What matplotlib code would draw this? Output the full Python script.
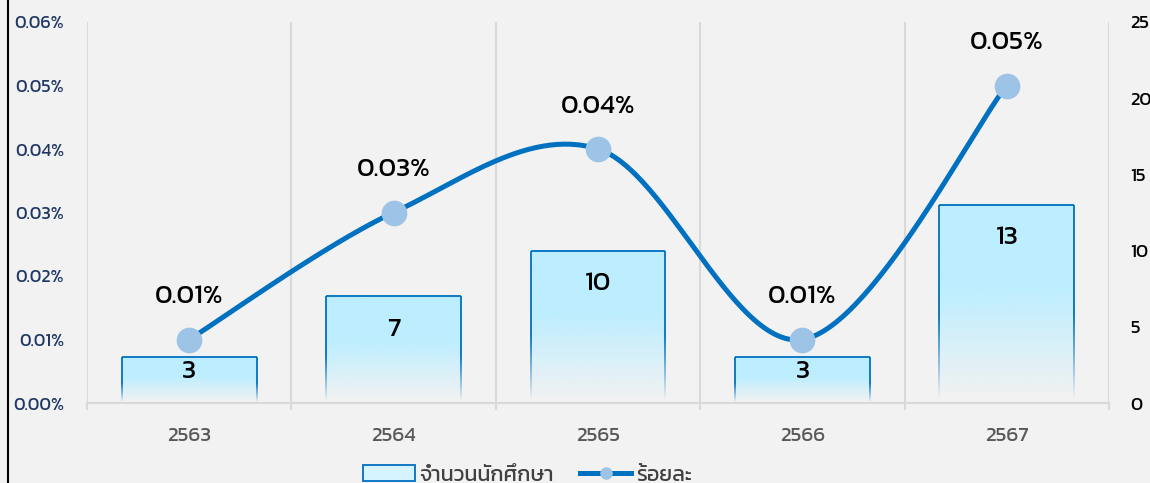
import numpy as np
import matplotlib
matplotlib.use("Agg")
import matplotlib.pyplot as plt
from matplotlib.collections import LineCollection
from matplotlib.lines import Line2D
from matplotlib.patches import Patch
from matplotlib.ticker import FuncFormatter

plt.rcParams['font.family'] = ['Kanit', 'DejaVu Sans']
plt.rcParams['font.weight'] = 'normal'

years = ['2563', '2564', '2565', '2566', '2567']
students = [3, 7, 10, 3, 13]
percent = [0.0001, 0.0003, 0.0004, 0.0001, 0.0005]   # fraction, 0.0001 = 0.01%
bar_label = 'จำนวนนักศึกษา'
line_label = 'ร้อยละ'

BG = '#f2f2f2'
GRID = '#d9d9d9'
BAR_TOP = np.array([189, 238, 255]) / 255
EDGE = '#0070c0'
LINE = '#0070c0'
MARKER = '#9dc3e6'


def catmull_rom(px, py, n=60):
    """ smooth curve through points, like the smoothed line in Excel """
    px = np.asarray(px, float)
    py = np.asarray(py, float)
    xs, ys = [], []
    for i in range(len(px) - 1):
        p0 = i - 1 if i > 0 else i
        p3 = i + 2 if i + 2 < len(px) else i + 1
        c1 = (px[i] + (px[i + 1] - px[p0]) / 6, py[i] + (py[i + 1] - py[p0]) / 6)
        c2 = (px[i + 1] - (px[p3] - px[i]) / 6, py[i + 1] - (py[p3] - py[i]) / 6)
        t = np.linspace(0, 1, n)
        a, b, c, d = (1 - t) ** 3, 3 * (1 - t) ** 2 * t, 3 * (1 - t) * t ** 2, t ** 3
        xs.append(a * px[i] + b * c1[0] + c * c2[0] + d * px[i + 1])
        ys.append(a * py[i] + b * c1[1] + c * c2[1] + d * py[i + 1])
    return np.concatenate(xs), np.concatenate(ys)


def fade(t, start, end):
    """ 1 above start, falling to 0 at end (t measured from the top) """
    return np.clip((end - t) / (end - start), 0, 1)


fig = plt.figure(figsize=(11.5, 4.83), dpi=100, facecolor=BG)
ax2 = fig.add_axes([87 / 1150, 80 / 483, 1022 / 1150, 381 / 483])
ax = ax2.twinx()
ax2.yaxis.tick_right()
ax.yaxis.tick_left()
ax.set_zorder(ax2.get_zorder() + 1)
ax.patch.set_visible(False)
ax2.set_facecolor(BG)

x = np.arange(len(years))
width = 0.66

# bars with a vertical fade, on the count axis
for xi, v in zip(x, students):
    n = 200
    t = np.linspace(1, 0, n)          # row 0 at the bottom
    img = np.zeros((n, 1, 4))
    img[:, 0, :3] = BAR_TOP
    img[:, 0, 3] = fade(t, 0.42, 0.98)
    ax2.imshow(img, extent=[xi - width / 2, xi + width / 2, 0, v], origin='lower',
               aspect='auto', interpolation='bilinear', zorder=2)
    ax2.plot([xi - width / 2, xi + width / 2], [v, v], color=EDGE, lw=1.3, zorder=3,
             solid_capstyle='butt')
    ys = np.linspace(v, 0, 60)
    alphas = fade(1 - ys / v, 0.55, 0.97)
    for sx in (xi - width / 2, xi + width / 2):
        segs = [[(sx, ys[k]), (sx, ys[k + 1])] for k in range(len(ys) - 1)]
        cols = [(0, 0.44, 0.75, a) for a in alphas[:-1]]
        ax2.add_collection(LineCollection(segs, colors=cols, linewidths=1.3, zorder=3))
    ax2.text(xi, v - min(2.2, 0.33 * v), str(v), ha='center', va='center',
             fontsize=19.5, color='black', zorder=4)

ax2.set_ylim(0, 25)
ax2.set_yticks(np.arange(0, 26, 5))
ax2.tick_params(axis='y', length=0, pad=15.5, labelsize=13.5, labelcolor='black')

# category axis: labels in the middle, grid lines between categories
ax2.set_xlim(-0.5, len(years) - 0.5)
ax2.set_xticks(x)
ax2.set_xticklabels(years)
ax2.set_xticks(np.arange(-0.5, len(years), 1), minor=True)
ax2.tick_params(axis='x', which='major', length=0, pad=17, labelsize=15, labelcolor='#595959')
ax2.tick_params(axis='x', which='minor', length=5, width=1.5, color=GRID)
ax2.grid(axis='x', which='minor', color=GRID, lw=1.5, zorder=0)
ax2.set_axisbelow(True)

# smoothed percentage line, worked out in pixel-like units
sx_px = x * 204.4
sy_px = np.array(percent) / 0.0006 * 381
cx, cy = catmull_rom(sx_px, sy_px)
ax.plot(cx / 204.4, cy / 381 * 0.0006, color=LINE, lw=3.6, zorder=5, solid_capstyle='round')
ax.plot(x, percent, 'o', ms=18.5, color=MARKER, mec='none', zorder=6)
for xi, p in zip(x, percent):
    ax.annotate(f'{p * 100:.2f}%', (xi, p), xytext=(0, 30.5), textcoords='offset points',
                ha='center', va='center', fontsize=19.5, color='black', zorder=7)

ax.set_ylim(0, 0.0006)
ax.set_yticks(np.arange(0, 0.00061, 0.0001))
ax.yaxis.set_major_formatter(FuncFormatter(lambda v, pos: f'{v * 100:.2f}%'))
ax.tick_params(axis='y', length=0, pad=16.5, labelsize=13, labelcolor='#1f3864')
ax.tick_params(axis='x', which='both', length=0, labelbottom=False)

for a in (ax, ax2):
    for s in a.spines.values():
        s.set_visible(False)
ax2.spines['bottom'].set_visible(True)
ax2.spines['bottom'].set_color(GRID)
ax2.spines['bottom'].set_linewidth(1.5)

# legend below the chart
handles = [Patch(facecolor='#d6f4ff', edgecolor=EDGE, lw=1.3),
           Line2D([0], [0], color=LINE, lw=3.6, marker='o', ms=9, mfc=MARKER, mec='none')]
fig.legend(handles, [bar_label, line_label], loc='center left',
           bbox_to_anchor=(344 / 1150, 1 - 475 / 483), ncol=2, frameon=False,
           fontsize=15.5, handlelength=2.4, handletextpad=0.2,
           columnspacing=1.2, labelcolor='#404040')

# border line on the left edge
fig.add_artist(Line2D([8 / 1150, 8 / 1150], [0, 1], color='black', lw=1.5))

fig.savefig('out.png', facecolor=BG)
